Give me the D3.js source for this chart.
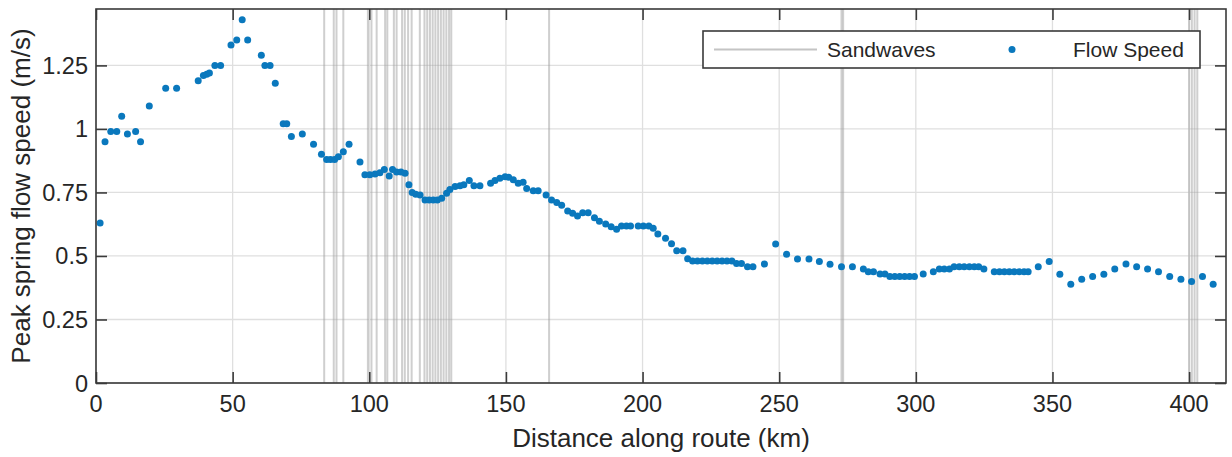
<!DOCTYPE html>
<html>
<head>
<meta charset="utf-8">
<script src="https://cdn.jsdelivr.net/npm/d3@7"></script>
<style>
  body { margin: 0; background: #fff; }
  svg  { display: block; font-family: "Liberation Sans", Arial, sans-serif; }
  .grid line  { stroke: #dfdfdf; stroke-width: 1.3; }
  .axisbox    { fill: none; stroke: #3a3a3a; stroke-width: 1.6; }
  .tick line  { stroke: #3a3a3a; stroke-width: 1.6; }
  .ticklabel  { font-size: 23.5px; fill: #262626; }
  .label      { font-size: 26px; fill: #262626; }
  .sandwave   { stroke: #a0a0a0; stroke-opacity: 0.5; stroke-width: 2; }
  .dot        { fill: #0a78bd; }
  .legend rect { fill: #fff; stroke: #3a3a3a; stroke-width: 1.6; }
  .legend text { font-size: 21px; fill: #262626; }
</style>
</head>
<body>
<div id="chart"></div>
<script>
// Distance along route (km) of each flow speed sample
var distances = [
  1.5, 3.3, 5.4, 7.6, 9.4, 11.5, 14.5, 16.3, 19.5, 25.5,
  29.5, 37.4, 39.3, 40.5, 41.5, 43.5, 45.6, 49.4, 51.5, 53.5,
  55.5, 60.5, 61.8, 63.7, 65.6, 68.5, 69.8, 71.5, 75.5, 79.6,
  82.5, 84.4, 85.8, 87.3, 88.7, 90.5, 92.6, 96.6, 98.4, 100.2,
  102.1, 103.9, 105.5, 107.3, 108.5, 110.0, 111.6, 113.1, 114.5, 115.7,
  117.0, 118.6, 120.4, 121.9, 123.4, 124.9, 126.5, 128.3, 129.5, 131.4,
  133.2, 134.6, 136.6, 138.3, 140.5, 144.4, 146.0, 147.8, 149.7, 151.0,
  152.7, 154.5, 156.3, 157.6, 160.0, 161.8, 164.7, 166.7, 168.6, 170.4,
  172.6, 174.4, 176.2, 178.1, 180.1, 182.4, 184.2, 186.5, 188.5, 190.5,
  192.3, 194.1, 195.6, 198.4, 200.3, 202.3, 203.9, 205.6, 208.4, 210.6,
  212.5, 214.8, 216.5, 218.3, 220.1, 221.9, 223.7, 225.5, 227.3, 229.1,
  230.9, 232.7, 234.4, 236.2, 238.4, 240.4, 244.6, 248.7, 252.7, 256.7,
  260.9, 264.7, 268.6, 272.8, 276.8, 280.8, 282.6, 284.5, 286.9, 288.7,
  290.5, 292.3, 294.1, 295.9, 297.7, 299.5, 302.7, 306.4, 308.6, 310.4,
  312.3, 314.0, 315.9, 317.7, 319.6, 321.4, 323.0, 324.9, 328.7, 330.6,
  332.4, 334.2, 336.0, 337.8, 339.6, 341.1, 344.8, 348.8, 352.7, 356.7,
  360.7, 364.7, 368.8, 372.8, 376.9, 380.8, 384.8, 388.8, 392.9, 397.0,
  400.9, 404.9, 408.8
]

// Peak spring flow speed (m/s), same order as distances
var speeds = [
  0.63, 0.95, 0.99, 0.99, 1.05, 0.98, 0.99, 0.95, 1.09, 1.16,
  1.16, 1.19, 1.21, 1.215, 1.22, 1.25, 1.25, 1.33, 1.35, 1.43,
  1.35, 1.29, 1.25, 1.25, 1.18, 1.02, 1.02, 0.97, 0.98, 0.94,
  0.90, 0.88, 0.88, 0.88, 0.89, 0.91, 0.94, 0.87, 0.82, 0.82,
  0.823, 0.828, 0.84, 0.815, 0.84, 0.83, 0.83, 0.826, 0.78, 0.75,
  0.743, 0.74, 0.72, 0.72, 0.72, 0.72, 0.727, 0.747, 0.762, 0.773,
  0.776, 0.78, 0.797, 0.776, 0.776, 0.786, 0.797, 0.806, 0.812, 0.81,
  0.80, 0.786, 0.79, 0.766, 0.757, 0.757, 0.74, 0.72, 0.71, 0.70,
  0.677, 0.668, 0.657, 0.67, 0.67, 0.65, 0.637, 0.626, 0.615, 0.605,
  0.618, 0.618, 0.618, 0.618, 0.618, 0.618, 0.609, 0.586, 0.57, 0.548,
  0.521, 0.521, 0.489, 0.48, 0.48, 0.48, 0.48, 0.48, 0.48, 0.48,
  0.48, 0.48, 0.47, 0.47, 0.458, 0.458, 0.468, 0.547, 0.507, 0.488,
  0.488, 0.478, 0.467, 0.458, 0.458, 0.449, 0.438, 0.438, 0.429, 0.429,
  0.419, 0.419, 0.419, 0.419, 0.419, 0.419, 0.429, 0.438, 0.449, 0.449,
  0.449, 0.458, 0.458, 0.458, 0.458, 0.458, 0.458, 0.449, 0.438, 0.438,
  0.438, 0.438, 0.438, 0.438, 0.438, 0.438, 0.458, 0.478, 0.428, 0.389,
  0.408, 0.419, 0.428, 0.449, 0.468, 0.458, 0.449, 0.438, 0.419, 0.408,
  0.399, 0.419, 0.389
]

// Sandwave locations (km)
var sandwaves = [
  83.5, 87, 88, 90.5, 99.5, 100.8, 102.7, 105.8, 106.6, 109, 110,
  112, 113, 114.2, 115.5, 118.5, 120.2, 121.2, 122.2, 123.2, 124.2,
  125.2, 126.2, 127.2, 128.2, 129.2, 130, 165.8, 272.8, 273.4,
  400, 401, 402, 403
]

var xTicks  = [0, 50, 100, 150, 200, 250, 300, 350, 400],
    yTicks  = [0, 0.25, 0.5, 0.75, 1, 1.25],
    xDomain = [0, 413.5],
    yDomain = [0, 1.472],
    seriesNames = ["Sandwaves", "Flow Speed"]

var W       = 1232,
    H       = 457,
    mLeft   = 96,
    mTop    = 9,
    mRight  = 6,
    mBottom = 74,
    plotW   = W - mLeft - mRight,
    plotH   = H - mTop - mBottom,
    tickLen = 11

var svg = d3.select("#chart").append("svg")
            .attr("width", W)
            .attr("height", H)
var inner = svg.append("g")
               .attr("transform", "translate(" + mLeft + "," + mTop + ")")

var xScale = d3.scaleLinear().domain(xDomain).range([0, plotW]),
    yScale = d3.scaleLinear().domain(yDomain).range([plotH, 0])

// Grid lines
var grid = inner.append("g").attr("class", "grid")
grid.selectAll(".gx").data(xTicks).enter().append("line")
    .attr("x1", function (d) { return xScale(d) })
    .attr("x2", function (d) { return xScale(d) })
    .attr("y1", 0).attr("y2", plotH)
grid.selectAll(".gy").data(yTicks).enter().append("line")
    .attr("y1", function (d) { return yScale(d) })
    .attr("y2", function (d) { return yScale(d) })
    .attr("x1", 0).attr("x2", plotW)

// Sandwave markers
inner.append("g").selectAll("line").data(sandwaves).enter().append("line")
     .attr("class", "sandwave")
     .attr("x1", function (d) { return xScale(d) })
     .attr("x2", function (d) { return xScale(d) })
     .attr("y1", 0).attr("y2", plotH)

// Flow speed dots
var points = distances.map(function (d, i) { return { km : d, v : speeds[i] } })
inner.append("g").selectAll("circle").data(points).enter().append("circle")
     .attr("class", "dot")
     .attr("cx", function (d) { return xScale(d.km) })
     .attr("cy", function (d) { return yScale(d.v) })
     .attr("r", 3.5)

// Axes (ticks pointing inwards, on all four sides)
var xBottom = d3.axisBottom(xScale).tickValues(xTicks).tickSize(-tickLen).tickFormat(""),
    xTop    = d3.axisTop(xScale).tickValues(xTicks).tickSize(-tickLen).tickFormat(""),
    yLeft   = d3.axisLeft(yScale).tickValues(yTicks).tickSize(-tickLen).tickFormat(""),
    yRight  = d3.axisRight(yScale).tickValues(yTicks).tickSize(-tickLen).tickFormat("")
inner.append("g").attr("transform", "translate(0," + plotH + ")").call(xBottom)
inner.append("g").call(xTop)
inner.append("g").call(yLeft)
inner.append("g").attr("transform", "translate(" + plotW + ",0)").call(yRight)
inner.selectAll(".domain").remove()
inner.append("rect")
     .attr("class", "axisbox")
     .attr("width", plotW)
     .attr("height", plotH)

// Tick labels
inner.selectAll(".xl").data(xTicks).enter().append("text")
     .attr("class", "ticklabel")
     .attr("x", function (d) { return xScale(d) })
     .attr("y", plotH + 29)
     .attr("text-anchor", "middle")
     .text(function (d) { return d })
inner.selectAll(".yl").data(yTicks).enter().append("text")
     .attr("class", "ticklabel")
     .attr("x", -8)
     .attr("y", function (d) { return yScale(d) + 8.5 })
     .attr("text-anchor", "end")
     .text(function (d) { return d })

// Axis labels
svg.append("text")
   .attr("class", "label")
   .attr("x", mLeft + plotW / 2)
   .attr("y", 447)
   .attr("text-anchor", "middle")
   .text("Distance along route (km)")
svg.append("text")
   .attr("class", "label")
   .attr("transform", "translate(30," + (mTop + plotH / 2) + ") rotate(-90)")
   .attr("text-anchor", "middle")
   .text("Peak spring flow speed (m/s)")

// Legend
var legend = svg.append("g").attr("class", "legend")
legend.append("rect")
      .attr("x", 703).attr("y", 31)
      .attr("width", 497).attr("height", 37)
legend.append("line")
      .attr("x1", 714).attr("x2", 817)
      .attr("y1", 49.5).attr("y2", 49.5)
      .style("stroke", "#c4c4c4").style("stroke-width", 1.8)
legend.append("text").attr("x", 827).attr("y", 57).text(seriesNames[0])
legend.append("circle")
      .attr("class", "dot")
      .attr("cx", 1012).attr("cy", 49.5).attr("r", 3.5)
legend.append("text").attr("x", 1073).attr("y", 57).text(seriesNames[1])
</script>
</body>
</html>
